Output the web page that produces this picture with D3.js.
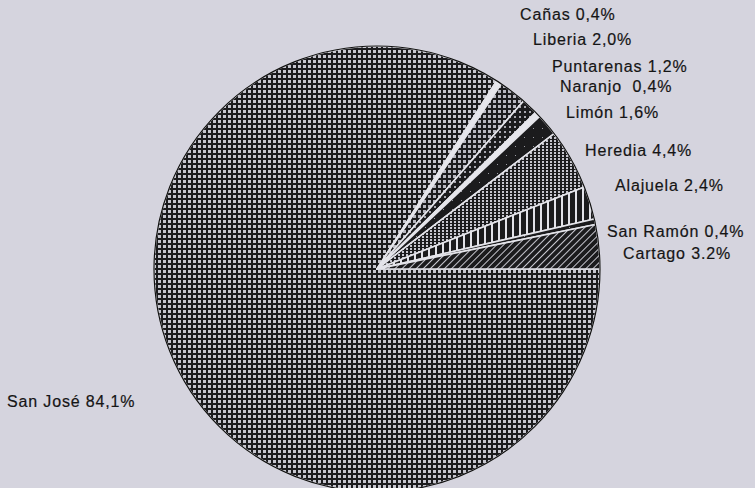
<!DOCTYPE html>
<html><head><meta charset="utf-8">
<script src="https://cdn.jsdelivr.net/npm/d3@7"></script>
<style>
body{margin:0;background:#d5d4de;}
svg{display:block}
text{font-family:"Liberation Sans",Arial,Helvetica,sans-serif;font-size:16px;fill:#151515;stroke:#151515;stroke-width:0.2px;letter-spacing:0.85px;white-space:pre}
</style>
</head><body><svg id="c" width="755" height="488"></svg>
<script>
// Data (clockwise from 3 o'clock)
const regions = ["San José","Cañas","Liberia","Puntarenas","Naranjo","Limón","Heredia","Alajuela","San Ramón","Cartago"];
const shares = [84.1,0.4,2.0,1.2,0.4,1.6,4.4,2.4,0.4,3.2];
const labels = ["San José 84,1%","Cañas 0,4%","Liberia 2,0%","Puntarenas 1,2%","Naranjo  0,4%","Limón 1,6%","Heredia 4,4%","Alajuela 2,4%","San Ramón 0,4%","Cartago 3.2%"];

// Layout / style (kept separate from the data)
const labelPos = [[7,407],[520,20],[533,45],[552,72],[560,92],[566,118],[585,156],[615,191],[607,237],[623,259]];
const fills = ["url(#p-check)","#e6e6ec","url(#p-check2)","url(#p-dots)","#e6e6ec","url(#p-speck)","url(#p-vdots)","url(#p-vbars)","url(#p-speck)","url(#p-diag)"];
const cx = 377, cy = 269, R = 223;

const svg = d3.select("#c");
const defs = svg.append("defs");
const dark = "#1b1b1d", light = "#c6c6ce";

function pat(id, w, h, tf){
  const p = defs.append("pattern").attr("id",id).attr("patternUnits","userSpaceOnUse")
    .attr("width",w).attr("height",h).attr("shape-rendering","crispEdges");
  if (tf) p.attr("patternTransform",tf);
  p.append("rect").attr("width",w).attr("height",h).attr("fill",dark);
  return p;
}
let p;
p = pat("p-check",5,5); p.append("rect").attr("x",1).attr("y",1).attr("width",3).attr("height",3).attr("fill",light);
p = pat("p-check2",5,5); p.append("rect").attr("x",1).attr("y",1).attr("width",3).attr("height",3).attr("fill","#b8b8c0");
p = pat("p-dots",5,5); p.append("rect").attr("x",2).attr("y",2).attr("width",2).attr("height",2).attr("fill","#a8a8b0");
p = pat("p-speck",9,9); p.append("rect").attr("x",3).attr("y",3).attr("width",1).attr("height",1).attr("fill","#9a9aa2");
p = pat("p-vdots",4,3); p.append("rect").attr("x",1).attr("y",0).attr("width",1.5).attr("height",2).attr("fill",light);
p = pat("p-vbars",7,7); p.append("rect").attr("x",2).attr("y",0).attr("width",2).attr("height",7).attr("fill","#e2e2e8");
p = pat("p-diag",5,5,"rotate(45)"); p.append("rect").attr("x",1.5).attr("y",0).attr("width",1.6).attr("height",5).attr("fill",light);

const pie = d3.pie().sort(null).value(d=>d).startAngle(Math.PI/2).endAngle(Math.PI/2 + 2*Math.PI);
const arcs = pie(shares);
const arc = d3.arc().innerRadius(0).outerRadius(R);

const g = svg.append("g").attr("transform",`translate(${cx},${cy})`);
g.selectAll("path.s").data(arcs).join("path").attr("class","s")
  .attr("d",arc)
  .attr("fill",(d,i)=>fills[i])
  .attr("stroke","#e4e4ea").attr("stroke-width",1.6).attr("stroke-linejoin","round");
g.append("circle").attr("r",R).attr("fill","none").attr("stroke","#111").attr("stroke-width",1.2);

svg.selectAll("text.l").data(labels).join("text").attr("class","l")
  .attr("x",(d,i)=>labelPos[i][0]).attr("y",(d,i)=>labelPos[i][1])
  .text(d=>d);
</script>
</body></html>
